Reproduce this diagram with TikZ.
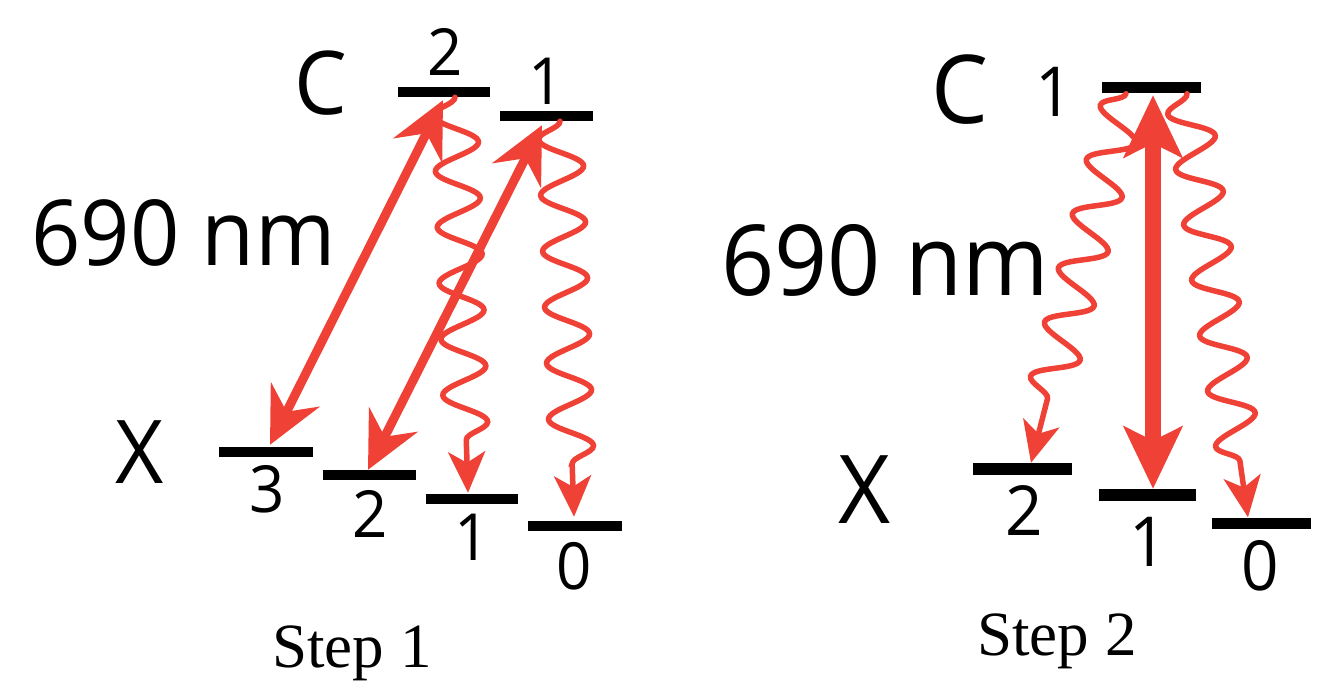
\documentclass[tikz,border=0pt]{standalone}
\usepackage{fontspec}
\setmainfont{Liberation Serif}
\newfontfamily\lblfont{Open Sans}[FakeStretch=0.95]
\usetikzlibrary{arrows.meta,decorations.pathmorphing}
\definecolor{lred}{RGB}{239,65,54}
\begin{document}
\begin{tikzpicture}[x=1pt,y=-1pt,
  bar/.style={fill=black, inner sep=0pt, minimum height=10pt},
  lab/.style={inner sep=0pt, anchor=base, font=\lblfont\fontsize{65}{70}\selectfont},
  labr/.style={inner sep=0pt, anchor=base, font=\lblfont\fontsize{69}{72}\selectfont},
  bigl/.style={inner sep=0pt, anchor=base, font=\lblfont\fontsize{88}{90}\selectfont},
  bigr/.style={inner sep=0pt, anchor=base, font=\lblfont\fontsize{95}{98}\selectfont},
  steplbl/.style={inner sep=0pt, anchor=base, font=\fontsize{63}{66}\selectfont},
  dbl/.style={draw=lred, line width=9pt,
    {Stealth[length=56pt,width=54pt,inset=19pt]}-{Stealth[length=56pt,width=54pt,inset=19pt]}},
  dblbig/.style={draw=lred, line width=16pt,
    {Stealth[length=62pt,width=58pt,inset=14pt]}-{Stealth[length=62pt,width=58pt,inset=14pt]}},
  wavy/.style={draw=lred, line width=5.5pt, line cap=round, decorate,
    decoration={snake, segment length=56pt, amplitude=22pt, post length=44pt, mirror},
    -{Stealth[length=41pt,width=37pt,inset=11pt]}},
]
\useasboundingbox (0,0) rectangle (1324,682);

% ---------- Step 1 ----------
\node[bar, minimum width=92pt] (c2) at (444,92) {};
\node[bar, minimum width=93pt] (c1) at (546.5,116) {};
\node[bar, minimum width=94pt] (x3) at (266,452) {};
\node[bar, minimum width=93pt] (x2) at (369.5,475) {};
\node[bar, minimum width=92pt] (x1) at (472,499) {};
\node[bar, minimum width=94pt] (x0) at (575,526) {};

\node[bigl] (lC) at (321,114) {C};
\node[lab] (lc2n) at (445,76) {2};
\node[lab] (lc1n) at (546,105) {1};
\node[inner sep=0pt, anchor=base west, font=\lblfont\fontsize{91}{94}\selectfont] (l690) at (31,265) {690 nm};
\node[bigl] (lX) at (140,483) {X};
\node[lab] (lx3n) at (267,512) {3};
\node[lab] (lx2n) at (370,537) {2};
\node[lab] (lx1n) at (472,560) {1};
\node[lab] (lx0n) at (574,589) {0};
\node[steplbl] (s1) at (352,667) {Step 1};

\draw[wavy] ([shift={(11,0)}]c2.south) -- ([shift={(-4,-1)}]x1.north);
\draw[wavy] ([shift={(13.5,0)}]c1.south) -- ([shift={(-1,-4)}]x0.north);
\draw[dbl] ([shift={(-1,3)}]c2.south) -- ([shift={(4,-2)}]x3.north);
\draw[dbl] ([shift={(-4.5,4)}]c1.south) -- ([shift={(-1.5,0)}]x2.north);

% ---------- Step 2 ----------
\node[bar, minimum width=99pt, minimum height=11pt] (rc1) at (1151.5,88) {};
\node[bar, minimum width=99pt, minimum height=12pt] (rx2) at (1022.5,469) {};
\node[bar, minimum width=97pt, minimum height=12pt] (rx1) at (1147.5,495) {};
\node[bar, minimum width=99pt, minimum height=11pt] (rx0) at (1261.5,523) {};

\node[bigr] (rC) at (960,124) {C};
\node[labr] (rc1n) at (1054,117) {1};
\node[inner sep=0pt, anchor=base west, font=\lblfont\fontsize{98}{100}\selectfont] (r690) at (721,295) {690 nm};
\node[bigr] (rX) at (865,523) {X};
\node[labr] (rx2n) at (1024,535) {2};
\node[labr] (rx1n) at (1148,566) {1};
\node[labr] (rx0n) at (1260,590) {0};
\node[steplbl] (s2) at (1057,655) {Step 2};

\draw[wavy] ([shift={(-25.5,0)}]rc1.south) -- ([shift={(8.5,0)}]rx2.north);
\draw[wavy] ([shift={(35.5,0)}]rc1.south) -- ([shift={(-13.5,0)}]rx0.north);
\draw[dblbig] ([shift={(1.5,1.5)}]rc1.south) -- ([shift={(5.5,0)}]rx1.north);
\end{tikzpicture}
\end{document}
